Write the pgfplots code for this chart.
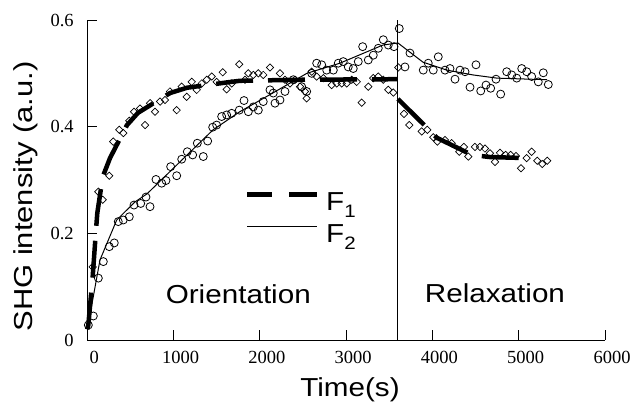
\documentclass[border=0pt]{standalone}
\usepackage{fontspec}
\setmainfont{Liberation Serif}
\newfontfamily\labfont[FakeStretch=1.14]{Liberation Sans}
\newfontfamily\ylabfont[FakeStretch=1.19]{Liberation Sans}
\usepackage{pgfplots}
\pgfplotsset{compat=1.18}
\usepackage{pgfplotstable}

\newcommand\lab{\labfont\fontsize{26}{30}\selectfont}
\newcommand\tickfont{\fontsize{18.5}{21}\selectfont}
\newcommand\sub[1]{\raisebox{-6.5pt}{\fontsize{18}{20}\selectfont #1}}

% F1 data (diamonds)
\pgfplotstableread{
t v
64 0.137
129 0.278
180 0.263
256 0.308
302 0.372
372 0.394
418 0.388
488 0.411
542 0.428
612 0.434
670 0.403
728 0.444
786 0.428
844 0.447
902 0.450
959 0.466
1037 0.431
1095 0.475
1153 0.456
1211 0.484
1269 0.469
1327 0.481
1385 0.488
1443 0.494
1500 0.484
1570 0.502
1616 0.470
1674 0.481
1762 0.517
1828 0.488
1867 0.500
1925 0.497
1983 0.500
2040 0.497
2118 0.511
2234 0.500
2292 0.488
2350 0.481
2408 0.488
2466 0.475
2524 0.466
2543 0.453
2601 0.503
2659 0.494
2736 0.491
2833 0.478
2891 0.481
2949 0.481
3007 0.481
3065 0.488
3123 0.484
3181 0.445
3257 0.475
3315 0.491
3373 0.494
3431 0.488
3489 0.469
3547 0.464
3605 0.511
3671 0.424
3732 0.403
3876 0.391
3941 0.394
4010 0.380
4057 0.372
4146 0.375
4223 0.369
4312 0.353
4366 0.362
4416 0.344
4493 0.362
4551 0.362
4609 0.359
4667 0.350
4725 0.334
4783 0.351
4849 0.347
4907 0.347
4968 0.345
5026 0.322
5092 0.341
5150 0.353
5215 0.336
5273 0.330
5331 0.336
}\dataA

% F2 data (circles)
\pgfplotstableread{
t v
13 0.028
71 0.045
129 0.116
187 0.147
256 0.175
314 0.182
360 0.222
418 0.225
488 0.231
542 0.253
620 0.256
681 0.268
728 0.250
797 0.301
863 0.294
913 0.299
967 0.325
1037 0.308
1095 0.339
1160 0.353
1222 0.347
1276 0.369
1345 0.344
1396 0.373
1454 0.399
1500 0.403
1558 0.419
1616 0.422
1674 0.425
1762 0.431
1817 0.449
1867 0.428
1925 0.437
1983 0.431
2040 0.447
2118 0.469
2156 0.463
2176 0.444
2234 0.450
2292 0.466
2388 0.488
2485 0.475
2543 0.466
2601 0.500
2659 0.519
2717 0.516
2775 0.506
2852 0.506
2909 0.519
2967 0.522
3025 0.512
3083 0.509
3141 0.522
3192 0.550
3257 0.525
3315 0.534
3373 0.547
3431 0.563
3489 0.553
3555 0.550
3616 0.584
3682 0.512
3740 0.538
3894 0.506
3952 0.519
4010 0.506
4068 0.531
4146 0.506
4204 0.509
4262 0.489
4320 0.506
4378 0.503
4436 0.474
4505 0.516
4560 0.467
4621 0.478
4675 0.472
4737 0.489
4791 0.461
4861 0.503
4919 0.497
4977 0.491
5035 0.509
5093 0.503
5150 0.494
5227 0.484
5285 0.501
5343 0.479
}\dataB

\begin{document}
\begin{tikzpicture}
\begin{axis}[
    name=ax,
    width=517.8pt, height=320pt, scale only axis,
    xmin=0, xmax=6000, ymin=0, ymax=0.6,
    axis x line*=bottom, axis y line*=left,
    axis line style={line width=0.8pt},
    xtick={0,1000,...,6000}, ytick={0,0.2,0.4,0.6},
    tick align=inside, major tick length=10pt,
    tick style={black, line width=0.8pt},
    scaled x ticks=false, scaled y ticks=false,
    /pgf/number format/assume math mode=true,
    xticklabel style={font=\tickfont, /pgf/number format/1000 sep={}, xshift=7pt, yshift=-8pt},
    yticklabel style={font=\tickfont, xshift=-10pt},
    xlabel={Time(s)},
    ylabel={SHG intensity (a.u.)},
    xlabel style={font=\lab, at={(rel axis cs:0.5075,-0.177)}, anchor=base},
    ylabel style={font=\ylabfont\fontsize{26}{30}\selectfont, at={(rel axis cs:-0.1047,0.448)}, anchor=base},
    clip=false,
    legend style={draw=none, fill=none, font=\lab, inner sep=0pt, outer sep=0pt,
        at={(rel axis cs:0.3048,0.462)}, anchor=north west,
        nodes={inner sep=0pt}, row sep=13pt, column sep=6.7pt},
    legend cell align=left,
]
% data points
\addplot[only marks, mark=o, mark size=4pt, mark options={line width=0.8pt}, forget plot] table[x=t,y=v] {\dataB};
\addplot[only marks, mark=square, mark size=2.6pt, mark options={rotate=45, line width=0.7pt}, forget plot] table[x=t,y=v] {\dataA};

% fitted curves
\addplot[line width=4.5pt, dash pattern=on 37pt off 15pt,
    legend image code/.code={
        \draw[line width=4.5pt] (0pt,8pt) -- (25pt,8pt);
        \draw[line width=4.5pt] (42pt,8pt) -- (70pt,8pt);}]
    coordinates {(0,0.02) (13,0.028) (64,0.12) (102,0.206) (117,0.238) (180,0.306) (264,0.341)
    (461,0.403) (589,0.426) (959,0.463) (1157,0.473) (1574,0.482) (1768,0.486) (2500,0.488) (3600,0.489)};
\addlegendentry{F\sub{1}}
\addplot[line width=1pt,
    legend image code/.code={\draw[line width=1pt] (0pt,8pt) -- (70pt,8pt);}]
    coordinates {(0,0.025) (13,0.03) (148,0.15) (342,0.225) (554,0.259) (693,0.274) (1075,0.334)
    (1458,0.394) (1768,0.428) (2150,0.463) (2545,0.50) (2928,0.519) (3426,0.553) (3600,0.557)
    (3890,0.521) (4168,0.506) (4470,0.497) (4748,0.491) (5328,0.488)};
\addlegendentry{F\sub{2}}
\addplot[line width=4.5pt, dash pattern=on 37pt off 15pt, forget plot]
    coordinates {(3600,0.452) (3937,0.398) (4053,0.379) (4459,0.347) (4667,0.343) (5108,0.341)};

% phase boundary
\addplot[line width=1pt, forget plot] coordinates {(3600,0) (3600,0.6)};

\node[font=\lab, anchor=base] at (axis cs:1751,0.069) {Orientation};
\node[font=\lab, anchor=base] at (axis cs:4725,0.071) {Relaxation};
\end{axis}
\pgfresetboundingbox
\path ([shift={(-87.2pt,-62pt)}]ax.south west) rectangle ([shift={(31pt,20pt)}]ax.north east);
\end{tikzpicture}
\end{document}
